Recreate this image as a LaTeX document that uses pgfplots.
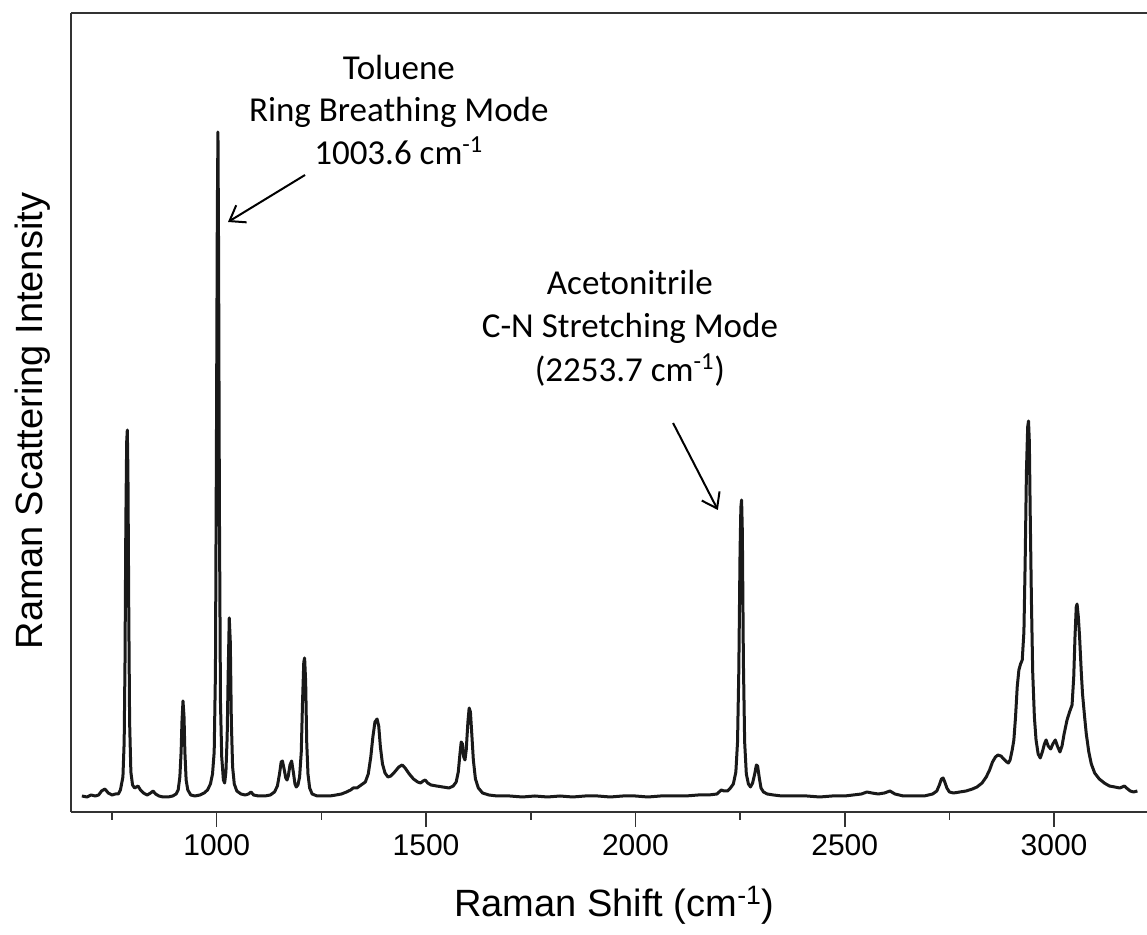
\documentclass[border=0pt]{standalone}
\usepackage{pgfplots}
\pgfplotsset{compat=1.18}
\usepackage{fontspec}
\setmainfont{Liberation Sans}
\newfontfamily\calfont{Carlito}
\usetikzlibrary{arrows.meta}
\begin{document}
\begin{tikzpicture}
\begin{axis}[
  at={(0,0)}, anchor=south west,
  scale only axis, width=538pt, height=399.5pt,
  xmin=652, xmax=3222, ymin=0, ymax=799,
  axis x line*=box, axis y line*=left,
  axis line style={-, line width=1.3pt, color=black!80},
  ytick=\empty,
  xtick={1000,1500,2000,2500,3000},
  minor xtick={750,1250,1750,2250,2750,3250},
  xtick pos=bottom, xtick align=outside,
  major tick length=7.5pt, minor tick length=4pt,
  every tick/.style={line width=0.8pt, color=black!80},
  ticklabel style={font=\fontsize{15}{18}\selectfont},
  /pgf/number format/assume math mode=true,
  /pgf/number format/set thousands separator={},
  clip=false,
]
\addplot[line width=1.5pt, color=black!90, line join=round, mark=none] coordinates {
(678,16) (690,15) (700,17) (710,16) (718,17) (725,21) (733,23) (741,19) (750,17) (758,18)
(765,18) (770,22) (776,35) (779,70) (781,150) (783,290) (785,370) (786.5,382) (788,340) (790,200)
(792,90) (795,40) (799,27) (804,24) (812,26) (818,22) (825,19) (834,17) (842,19) (848,21)
(854,18) (862,16) (872,15) (884,15) (895,16) (903,18) (908,22) (912,35) (915,60) (917,90)
(919.5,111) (922,95) (924,60) (927,32) (931,22) (938,17) (948,16) (960,17) (970,19) (978,22)
(985,28) (990,38) (994,60) (997,140) (999.5,380) (1001.5,600) (1003,680) (1004.5,560) (1006.5,300) (1009,110)
(1012,55) (1016,32) (1019,29) (1022,40) (1025,75) (1027.5,140) (1030,194) (1032.5,170) (1035,90) (1038,45)
(1042,28) (1048,21) (1058,18) (1068,17) (1076,18) (1082,20) (1088,17) (1100,16) (1115,16) (1128,17)
(1138,20) (1145,26) (1150,38) (1154,50) (1157,51) (1161,43) (1165,34) (1168,32) (1171,36) (1175,47)
(1179,51) (1183,40) (1187,28) (1190,25) (1194,27) (1198,35) (1202,60) (1205,110) (1208,150) (1210,154)
(1212.5,130) (1215,70) (1218,38) (1222,24) (1228,18) (1240,16) (1255,16) (1270,16) (1285,17) (1298,18)
(1310,20) (1320,22) (1326,24) (1335,24) (1345,27) (1355,30) (1362,38) (1368,55) (1373,75) (1378,90)
(1383,93) (1387,86) (1391,65) (1396,48) (1402,39) (1409,35) (1416,36) (1425,40) (1435,45) (1443,47)
(1450,44) (1460,38) (1470,33) (1480,30) (1487,29) (1493,31) (1498,32) (1504,29) (1512,27) (1525,26)
(1540,25) (1555,24) (1565,26) (1572,30) (1577,40) (1581,58) (1584,70) (1587,68) (1590,55) (1593,52)
(1596,62) (1600,90) (1603,104) (1606,100) (1609,80) (1613,52) (1618,33) (1625,24) (1635,19) (1650,17)
(1670,16) (1700,16) (1730,15) (1760,16) (1790,15) (1820,16) (1850,15) (1880,16) (1910,16) (1940,15)
(1970,16) (2000,16) (2030,15) (2060,16) (2090,16) (2120,16) (2150,17) (2175,17) (2195,18) (2205,22)
(2212,21) (2220,21) (2227,24) (2234,28) (2240,40) (2244,70) (2247,140) (2250,260) (2252,305) (2253.7,312)
(2255.5,280) (2258,150) (2261,70) (2265,38) (2270,28) (2275,25) (2280,29) (2285,38) (2289,47) (2292,46)
(2296,34) (2300,24) (2306,20) (2315,18) (2330,17) (2350,16) (2380,16) (2410,16) (2440,15) (2470,16)
(2500,16) (2520,17) (2540,18) (2553,20) (2565,19) (2580,18) (2595,19) (2608,21) (2620,18) (2640,16)
(2665,16) (2690,16) (2710,18) (2720,21) (2726,27) (2731,33) (2735,34) (2739,30) (2744,24) (2750,20)
(2760,19) (2775,20) (2790,21) (2805,23) (2816,25) (2828,29) (2838,35) (2846,42) (2853,50) (2860,55)
(2866,57) (2873,56) (2880,53) (2887,50) (2891,49) (2895,52) (2900,62) (2904,72) (2908,95) (2912,125)
(2916,142) (2920,148) (2924,152) (2928,180) (2931,250) (2934,340) (2937,385) (2939,391) (2941,370) (2943,300)
(2946,210) (2949,140) (2953,95) (2957,72) (2962,58) (2967,54) (2972,60) (2977,68) (2981,72) (2986,66)
(2992,63) (2997,68) (3003,72) (3008,66) (3014,60) (3019,66) (3024,78) (3031,92) (3037,100) (3043,107)
(3047,135) (3050,175) (3053,205) (3055,208) (3058,195) (3061,175) (3065,140) (3068,118) (3073,95) (3077,78)
(3083,60) (3089,48) (3097,39) (3108,33) (3120,29) (3132,26) (3145,25) (3157,24) (3163,25) (3168,26)
(3173,24) (3182,21) (3190,20) (3199,21)
};
% annotations
\begin{scope}[every node/.style={font=\calfont\fontsize{17.5}{21}\selectfont, anchor=base, inner sep=0pt}]
\node at (axis cs:1435,732) {Toluene};
\node at (axis cs:1435,690) {Ring Breathing Mode};
\node at (axis cs:1435,647) {1003.6 cm\textsuperscript{-1}};
\node at (axis cs:1987,517) {Acetonitrile};
\node at (axis cs:1987,474) {C-N Stretching Mode};
\node at (axis cs:1987,430) {(2253.7 cm\textsuperscript{-1})};
\end{scope}
\draw[line width=1pt, -{Straight Barb[length=7pt,width=10pt]}] (axis cs:1211,637) -- (axis cs:1027,590);
\draw[line width=1pt, -{Straight Barb[length=7pt,width=10pt]}] (axis cs:2090,389) -- (axis cs:2197,302);
% axis labels
\node[font=\fontsize{19}{22}\selectfont, anchor=base, inner sep=0pt] at (axis cs:1950,-105) {Raman Shift (cm\textsuperscript{-1})};
\node[font=\fontsize{19}{22}\selectfont, anchor=base, inner sep=0pt, rotate=90] at (axis cs:585,391) {Raman Scattering Intensity};
\end{axis}
\pgfresetboundingbox
\path[use as bounding box] (-35.5pt,-61.5pt) rectangle (538pt,406pt);
\end{tikzpicture}
\end{document}
